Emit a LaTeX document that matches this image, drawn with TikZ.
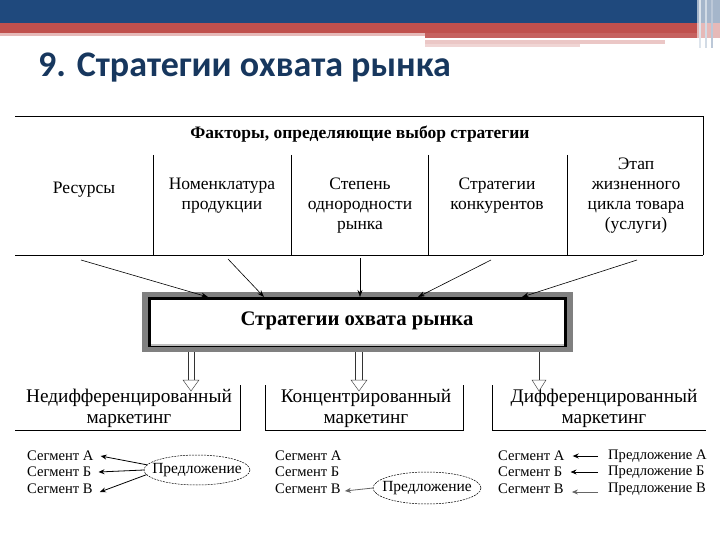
\documentclass[tikz,border=0pt]{standalone}
\usepackage{fontspec}
\setmainfont{Liberation Serif}
\newfontfamily\titlefont{Carlito}
\usetikzlibrary{arrows.meta,shapes.geometric,calc}
\definecolor{hdrblue}{RGB}{31,73,125}
\definecolor{hdrred}{RGB}{192,80,77}
\definecolor{hdrpink}{RGB}{230,185,184}
\definecolor{titleblue}{RGB}{23,55,94}
\definecolor{framegray}{RGB}{128,128,128}
\tikzset{
  coltext/.style={align=center,font=\fontsize{17.5}{20}\selectfont,inner sep=0pt},
  bottext/.style={align=center,font=\fontsize{19.3}{21}\selectfont,inner sep=0pt},
  segtext/.style={anchor=west,font=\fontsize{14.6}{16}\selectfont,inner sep=0pt},
  fact/.style={-{Stealth[length=7pt,width=5pt]},line width=0.6pt},
  small/.style={-{Stealth[length=6pt,width=5pt]},line width=0.8pt},
  tline/.style={line width=0.9pt},
  offerline/.style={draw,dashed,dash pattern=on 2pt off 1pt,line width=0.5pt},
  hollowhead/.style={fill=white,draw=black!70,line width=0.5pt}
}
\begin{document}
\begin{tikzpicture}[x=1pt,y=-1pt]
\useasboundingbox (0,0) rectangle (720,540);
\fill[white] (0,0) rectangle (720,540);
% header bands
\fill[hdrblue] (0,0) rectangle (697,23);
\fill[hdrred] (0,23) rectangle (697,33);
\fill[hdrpink] (0,33) rectangle (425,36);
\fill[hdrred!90] (425,33) rectangle (697,38);
\fill[hdrpink!80] (425,40) rectangle (665,44);
\fill[hdrpink!60] (425,44) rectangle (580,47);
\fill[hdrblue!40] (697,0) rectangle (720,23);
\fill[hdrpink] (697,23) rectangle (720,38);
\fill[white!85!hdrblue] (699,0) rectangle (701,48);
\fill[white!80!hdrblue] (705,0) rectangle (707,48);
\fill[white!70!hdrblue] (711,0) rectangle (713,48);
\node[anchor=west,inner sep=0pt,text=titleblue,font=\titlefont\bfseries\fontsize{36}{38}\selectfont] (title) at (38,68) {9. Стратегии охвата рынка};

% factors table
\draw[tline] (15,116) -- (703,116) -- (703,255);
\draw[tline] (15,255) -- (703,255);
\draw[tline] (153,155) -- (153,255);
\draw[tline] (291,155) -- (291,255);
\draw[tline] (428,155) -- (428,255);
\draw[tline] (567,155) -- (567,255);
\node[inner sep=0pt,font=\bfseries\fontsize{17.5}{19}\selectfont] (hdr) at (360,134) {Факторы, определяющие выбор стратегии};
\node[coltext] (f1) at (84,190) {Ресурсы};
\node[coltext] (f2) at (222,196) {Номенклатура\\продукции};
\node[coltext] (f3) at (360,206) {Степень\\однородности\\рынка};
\node[coltext] (f4) at (497,196) {Стратегии\\конкурентов};
\node[coltext] (f5) at (636,196) {Этап\\жизненного\\цикла товара\\(услуги)};
\coordinate (s1) at (81,260);
\coordinate (s2) at (228,259);
\coordinate (s3) at (360,258);
\coordinate (s4) at (491,260);
\coordinate (s5) at (637,260);

% strategy box
\draw[framegray,line width=6pt] (145,295) rectangle (570,349);
\draw[black,line width=3.5pt] (149.5,298.5) rectangle (565.5,345.5);
\draw[black!25,line width=2pt] (151,345) -- (564,345);
\node[inner sep=0pt,font=\bfseries\fontsize{20.7}{22}\selectfont] (strat) at (357,321) {Стратегии охвата рынка};
\coordinate (t1) at (208,297);
\coordinate (t2) at (264,297);
\coordinate (t3) at (360,297);
\coordinate (t4) at (418,297);
\coordinate (t5) at (522,297);
\foreach \i in {1,...,5} \draw[fact] (s\i) -- (t\i);

% bottom boxes
\coordinate (b1nw) at (15,385); \coordinate (b1se) at (240,430);
\coordinate (b2nw) at (265,385); \coordinate (b2se) at (463,430);
\coordinate (b3nw) at (492,385); \coordinate (b3se) at (706,430);
\node[bottext] (b1) at (129,408) {Недифференцированный\\маркетинг};
\node[bottext] (b2) at (366,408) {Концентрированный\\маркетинг};
\node[bottext] (b3) at (604,408) {Дифференцированный\\маркетинг};
\draw[line width=0.7pt] (b1nw |- b1se) -- (b1se) -- (b1se |- b1nw);
\draw[line width=0.7pt] (b2nw) -- (b2nw |- b2se) -- (b2se) -- (b2se |- b2nw);
\draw[line width=0.7pt] (b3nw) -- (b3nw |- b3se) -- (b3se);

% hollow arrows
\coordinate (d1) at (191,391);
\coordinate (d2) at (359,391);
\coordinate (d3) at (539,391);
\draw[black!80,line width=0.5pt] (188,352) -- (188,380) (194,352) -- (194,380);
\draw[hollowhead] ($(d1)+(-8,-11)$) -- (d1) -- ($(d1)+(8,-11)$) -- cycle;
\draw[black!80,line width=0.5pt] (355.5,352) -- (355.5,380) (362.5,352) -- (362.5,380);
\draw[hollowhead] ($(d2)+(-8,-11)$) -- (d2) -- ($(d2)+(8,-11)$) -- cycle;
\draw[black!80,line width=0.6pt] (539,352) -- (539,380);
\draw[hollowhead] ($(d3)+(-7,-11)$) -- (d3) -- ($(d3)+(7,-11)$) -- cycle;

% left segments
\node[segtext] (la) at (27,456) {Сегмент А};
\node[segtext] (lb) at (27,472) {Сегмент Б};
\node[segtext] (lc) at (27,489) {Сегмент В};
\node[inner sep=0pt,font=\fontsize{15.5}{17}\selectfont] (lo) at (197,470) {Предложение};
\draw[offerline] (lo) ellipse (53 and 15);
\draw[small] ($(lo)+(200:53 and 15)$) -- ($(la.east)+(7,0)$);
\draw[small] ($(lo)+(180:53 and 15)$) -- ($(lb.east)+(7,0)$);
\draw[small] ($(lo)+(162:53 and 15)$) -- ($(lc.east)+(7,3)$);

% middle segments
\node[segtext] (ma) at (275,456) {Сегмент А};
\node[segtext] (mb) at (275,472) {Сегмент Б};
\node[segtext] (mc) at (275,489) {Сегмент В};
\node[inner sep=0pt,font=\fontsize{15.5}{17}\selectfont] (mo) at (427,488) {Предложение};
\draw[offerline] (mo) ellipse (54 and 16);
\draw[small,black!60] ($(mo)+(180:54 and 16)$) -- ($(mc.east)+(4,2)$);

% right segments
\node[segtext] (ra) at (498,456) {Сегмент А};
\node[segtext] (rb) at (498,472) {Сегмент Б};
\node[segtext] (rc) at (498,489) {Сегмент В};
\node[segtext] (pa) at (608,456) {Предложение А};
\node[segtext] (pb) at (608,472) {Предложение Б};
\node[segtext] (pc) at (608,489) {Предложение В};
\draw[small] ($(pa.west)+(-10,0)$) -- ($(ra.east)+(8,0)$);
\draw[small] ($(pb.west)+(-10,0)$) -- ($(rb.east)+(8,0)$);
\draw[small,black!60] ($(pc.west)+(-10,3)$) -- ($(rc.east)+(8,3)$);
\end{tikzpicture}
\end{document}
